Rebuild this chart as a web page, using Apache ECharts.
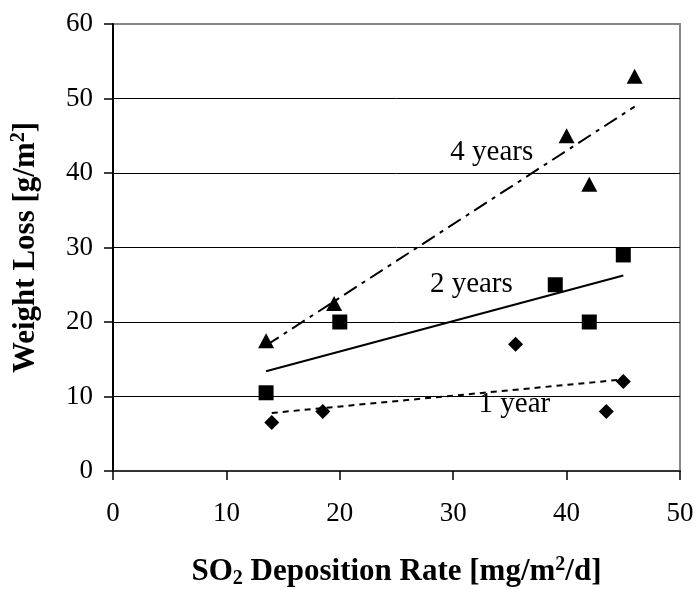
<!DOCTYPE html>
<html>
<head>
<meta charset="utf-8">
<script src="https://cdn.jsdelivr.net/npm/echarts@6/dist/echarts.min.js"></script>
<style>
  html, body { margin: 0; padding: 0; background: #fff; }
  #chart { width: 695px; height: 589px; }
</style>
</head>
<body>
<div id="chart"></div>
<script>
  // 数据 1 year / 2 years / 4 years
  var x1 = [14, 18.5, 35.5, 43.5, 45]
  var y1 = [6.5, 8, 17, 8, 12]
  var x2 = [13.5, 20, 39, 42, 45]
  var y2 = [10.5, 20, 25, 20, 29]
  var x4 = [13.5, 19.5, 40, 42, 46]
  var y4 = [17.5, 22.5, 45, 38.5, 53]
  var xTicks = [0, 10, 20, 30, 40, 50]
  var yTicks = [0, 10, 20, 30, 40, 50, 60]
  var seriesNames = ['1 year', '2 years', '4 years']

  var font = "'Liberation Serif', 'Times New Roman', serif"

  function pairs(xs, ys) {
    return xs.map(function (v, i) { return [v, ys[i]] })
  }
  // 最小二乘趋势线, 从最小x画到最大x
  function trend(xs, ys) {
    var n = xs.length, sx = 0, sy = 0, sxx = 0, sxy = 0
    for (var i = 0; i < n; i++) {
      sx += xs[i]; sy += ys[i]; sxx += xs[i] * xs[i]; sxy += xs[i] * ys[i]
    }
    var b = (n * sxy - sx * sy) / (n * sxx - sx * sx)
    var a = (sy - b * sx) / n
    var lo = Math.min.apply(null, xs), hi = Math.max.apply(null, xs)
    return [[lo, a + b * lo], [hi, a + b * hi]]
  }

  function pointSeries(name, data, symbol, size) {
    return {
      name: name, type: 'scatter', data: data, symbol: symbol, symbolSize: size,
      itemStyle: { color: '#000', opacity: 1 }, z: 5
    }
  }
  function lineSeries(name, data, dash) {
    return {
      name: name + ' trend', type: 'line', data: data, symbol: 'none',
      lineStyle: { color: '#000', width: 2, type: dash }, z: 4, silent: true
    }
  }

  var bold = { fontSize: 31, fontWeight: 'bold', fontFamily: font, color: '#000', lineHeight: 34 }
  var small = { fontSize: 20, fontWeight: 'bold', fontFamily: font, color: '#000', lineHeight: 18 }

  var chart = echarts.init(document.getElementById('chart'))
  var option = {
    animation: false,
    backgroundColor: '#fff',
    grid: {
      left: 113, right: 15, top: 24, bottom: 118, show: true, borderColor: '#888', borderWidth: 2,
      outerBoundsMode: 'none', containLabel: false
    },
    xAxis: {
      type: 'value', min: xTicks[0], max: xTicks[xTicks.length - 1], interval: 10,
      axisLine: { onZero: false, lineStyle: { color: '#333', width: 2 } },
      axisTick: { inside: false, length: 9, lineStyle: { color: '#000', width: 1.5 } },
      axisLabel: { color: '#000', fontSize: 27, fontFamily: font, margin: 29 },
      splitLine: { show: false },
      name: '{b|SO}{sub|2}{b| Deposition Rate [mg/m}{sup|2}{b|/d]}',
      nameLocation: 'middle', nameGap: 84,
      nameTextStyle: {
        rich: {
          b: bold,
          sub: Object.assign({}, small, { verticalAlign: 'bottom' }),
          sup: Object.assign({}, small, { verticalAlign: 'top' })
        }
      }
    },
    yAxis: {
      type: 'value', min: yTicks[0], max: yTicks[yTicks.length - 1], interval: 10,
      axisLine: { show: true, lineStyle: { color: '#000', width: 2 } },
      axisTick: { show: true, inside: false, length: 9, lineStyle: { color: '#000', width: 1.5 } },
      axisLabel: { color: '#000', fontSize: 27, fontFamily: font, margin: 20 },
      splitLine: { show: true, lineStyle: { color: ['#000', '#000', '#000', '#000', '#000', '#000', '#888'], width: 1 } },
      name: '{b|Weight Loss [g/m}{sup|2}{b|]}',
      nameLocation: 'middle', nameGap: 70, nameRotate: 90,
      nameTextStyle: {
        rich: {
          b: bold,
          sup: Object.assign({}, small, { verticalAlign: 'top' })
        }
      }
    },
    series: [
      lineSeries(seriesNames[0], trend(x1, y1), [6, 5]),
      lineSeries(seriesNames[1], trend(x2, y2), 'solid'),
      lineSeries(seriesNames[2], trend(x4, y4), [15, 6, 4, 6]),
      pointSeries(seriesNames[0], pairs(x1, y1), 'diamond', [15, 15]),
      pointSeries(seriesNames[1], pairs(x2, y2), 'rect', [15, 15]),
      pointSeries(seriesNames[2], pairs(x4, y4), 'triangle', [16, 15])
    ]
  }
  chart.setOption(option)

  // 趋势线旁的文字, 按数据坐标摆放
  var labelAt = [[35.4, 8.9], [31.6, 25], [33.4, 42.7]]
  var texts = seriesNames.map(function (name, i) {
    var p = chart.convertToPixel({ gridIndex: 0 }, labelAt[i])
    return {
      type: 'text', x: p[0], y: p[1], z: 10,
      style: { text: name, fill: '#000', font: '29px ' + font, textAlign: 'center', textVerticalAlign: 'middle' }
    }
  })
  chart.setOption({ graphic: texts })
</script>
</body>
</html>
